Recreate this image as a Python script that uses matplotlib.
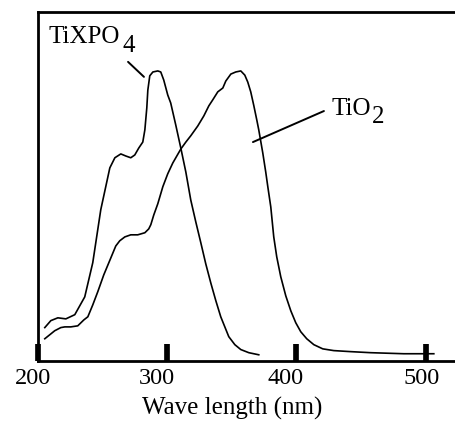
import matplotlib
matplotlib.use("Agg")
import matplotlib.pyplot as plt
from matplotlib.transforms import ScaledTranslation

plt.rcParams['font.family'] = ['Liberation Serif', 'DejaVu Serif']

# TiXPO4 spectrum (wavelength nm, absorbance a.u.)
tixpo4_wl = [205.4, 210.1, 215.5, 221.7, 228.6, 236.3, 242.5, 248.7, 255.7, 259.6,
             264.2, 268.1, 271.9, 275.0, 278.1, 281.2, 282.8, 284.3, 285.1, 286.6,
             289.0, 292.8, 295.1, 297.4, 300.5, 302.8, 306.7, 310.6, 314.5, 318.3,
             322.2, 326.1, 329.9, 333.8, 337.7, 341.5, 347.7, 352.4, 357.0, 363.2, 370.9]
tixpo4_abs = [9.5, 11.5, 12.3, 12.0, 13.2, 18.3, 28.1, 43.3, 55.3, 58.2,
              59.3, 58.7, 58.2, 59.0, 61.0, 62.7, 66.2, 72.5, 77.6, 81.7,
              82.8, 83.1, 82.8, 80.5, 76.2, 73.9, 67.6, 61.0, 54.1, 46.1,
              39.8, 33.8, 27.8, 22.3, 17.2, 12.6, 6.9, 4.6, 3.2, 2.3, 1.7]

# TiO2 spectrum
tio2_wl = [205.4, 210.1, 213.1, 217.8, 220.9, 225.5, 230.9, 235.6, 238.7, 242.5,
           246.4, 251.0, 256.5, 260.3, 263.4, 267.3, 271.9, 277.3, 282.8, 285.8,
           287.4, 289.7, 292.8, 296.7, 300.5, 304.4, 310.6, 314.5, 318.3, 323.7,
           328.4, 332.3, 335.3, 339.2, 343.1, 345.4, 349.3, 353.1, 357.0, 360.1,
           362.4, 364.7, 367.1, 369.4, 370.9, 374.0, 376.3, 377.9, 380.2, 382.5,
           384.8, 387.9, 391.8, 395.7, 399.5, 403.4, 408.0, 413.5, 420.4, 428.9,
           442.1, 457.5, 483.1, 506.3]
tio2_abs = [6.3, 7.7, 8.6, 9.5, 9.7, 9.7, 10.0, 11.7, 12.6, 16.0,
            19.8, 24.6, 29.5, 32.9, 34.4, 35.5, 36.1, 36.1, 36.7, 37.8,
            39.0, 41.8, 45.0, 49.9, 53.6, 56.7, 60.7, 62.7, 64.5, 67.3,
            70.2, 73.1, 74.8, 77.1, 78.2, 80.2, 82.2, 82.8, 83.1, 81.9,
            79.9, 77.1, 73.1, 69.0, 66.2, 59.6, 54.1, 49.9, 44.1, 35.5,
            29.8, 24.1, 18.6, 14.3, 10.9, 8.3, 6.3, 4.6, 3.4, 2.9,
            2.6, 2.3, 2.0, 2.0]

xticks = [200, 300, 400, 500]
xtick_labels = ['200', '300', '400', '500']
label_shift_px = [-5, -10, -11, -4]

fig = plt.figure(figsize=(4.55, 4.21), dpi=100)
ax = fig.add_axes([0.0831, 0.1432, 1.033 - 0.0831, 0.9715 - 0.1432])
ax.set_xlim(200, 534.3)
ax.set_ylim(0, 100)

ax.plot(tixpo4_wl, tixpo4_abs, color='black', lw=1.2)
ax.plot(tio2_wl, tio2_abs, color='black', lw=1.2)

for s in ['left', 'bottom', 'top']:
    ax.spines[s].set_linewidth(2.0)
ax.spines['right'].set_visible(False)

ax.set_yticks([])
ax.set_xticks(xticks)
ax.set_xticklabels(xtick_labels)
ax.tick_params(axis='x', direction='in', length=12.2, width=4.1, pad=5,
               labelsize=17.5, top=False)
for lab, dx in zip(ax.get_xticklabels(), label_shift_px):
    lab.set_transform(lab.get_transform() + ScaledTranslation(dx / 100, 0, fig.dpi_scale_trans))

fig.text(232 / 455, 6 / 421, 'Wave length (nm)', ha='center', va='baseline', fontsize=18)

# Labels with full-size shifted subscripts
ax.text(207.9, 91.1, 'TiXPO', fontsize=18, ha='left', va='baseline')
ax.text(265.2, 88.5, '4', fontsize=18, ha='left', va='baseline')
ax.text(426.8, 70.5, 'TiO', fontsize=18, ha='left', va='baseline')
ax.text(458.1, 68.1, '2', fontsize=18, ha='left', va='baseline')

ax.annotate('', xy=(282.1, 81.4), xytext=(269.8, 85.7),
            arrowprops=dict(arrowstyle='-', color='black', lw=1.4, shrinkA=0, shrinkB=0))
ax.annotate('', xy=(366.4, 62.7), xytext=(421.3, 71.6),
            arrowprops=dict(arrowstyle='-', color='black', lw=1.4, shrinkA=0, shrinkB=0))

fig.savefig('out.png', dpi=100)
